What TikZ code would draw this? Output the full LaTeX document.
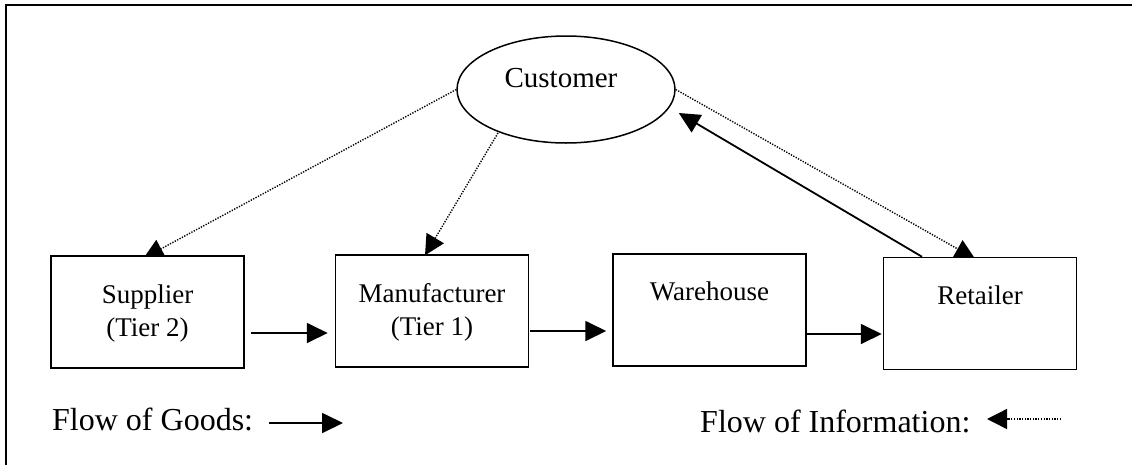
\documentclass[tikz,border=0pt]{standalone}
\usepackage{fontspec}
\setmainfont{Liberation Serif}
\usetikzlibrary{shapes.geometric,arrows.meta,calc}
\pgfdeclarelayer{bg}
\pgfdeclarelayer{conn}
\pgfsetlayers{bg,conn,main}
\begin{document}
\begin{tikzpicture}[x=1pt,y=-1pt,
  box/.style={draw, line width=1.5pt, fill=white, minimum width=193pt, minimum height=112pt, inner sep=0pt},
  btext/.style={font=\fontsize{27}{33}\selectfont, anchor=base, inner sep=0pt},
  ltext/.style={font=\fontsize{32}{38}\selectfont, anchor=base west, inner sep=0pt},
  goods/.style={line width=1.8pt, -{Triangle[length=21pt,width=20pt]}},
  info/.style={line width=1.4pt, dash pattern=on 1.3pt off 1.4pt, -{Triangle[length=20pt,width=20pt]}},
]
\useasboundingbox (0,0) rectangle (1132,464);
\begin{pgfonlayer}{bg}
\fill[white] (0,0) rectangle (1132,464);
\end{pgfonlayer}
\draw[line width=2pt] (6,466) -- (6,5) -- (1134,5);

\node[draw, ellipse, line width=1.5pt, minimum width=218pt, minimum height=107pt, inner sep=0pt] (cust) at (566,89.5) {};
\node[font=\fontsize{29}{35}\selectfont, anchor=base, inner sep=0pt] (custt) at (561,87) {Customer};

\node[box] (sup) at (147.5,312) {};
\node[btext] (supt1) at (147.5,303) {Supplier};
\node[btext] (supt2) at (147.5,336) {(Tier 2)};
\node[box] (man) at (432,311) {};
\node[btext] (mant1) at (432,302) {Manufacturer};
\node[btext] (mant2) at (432,335) {(Tier 1)};
\node[box] (war) at (709.5,310) {};
\node[btext] (wart) at (709.5,300) {Warehouse};
\node[box] (ret) at (980,313.5) {};
\node[btext] (rett) at (980,304) {Retailer};

\begin{pgfonlayer}{conn}
\draw[info] (cust.west) -- ($(sup.north)+(-4,3)$);
\draw[info] ($(cust.center)+(-68,43.5)$) -- ($(man.north)+(-7,1)$);
\draw[info] (cust.east) -- ($(ret.north)+(-5,2)$);
\draw[goods] ($(ret.north)+(-58,0)$) -- ($(cust.east)+(3,23.5)$);
\end{pgfonlayer}

\draw[goods] ($(sup.east)+(6,21)$) -- ($(man.west)+(-7,22)$);
\draw[goods] ($(man.east)+(1,20)$) -- ($(war.west)+(-6,21)$);
\draw[goods] ($(war.east)+(0,24)$) -- ($(ret.west)+(-1,20.5)$);

\node[ltext] (lg) at (52,430) {Flow of Goods:};
\coordinate (g1) at (269,423);
\coordinate (g2) at (343,423);
\draw[goods] (g1) -- (g2);
\node[ltext] (li) at (700,432) {Flow of Information:};
\coordinate (i1) at (1061,419);
\coordinate (i2) at (987,419);
\draw[info] (i1) -- (i2);
\end{tikzpicture}
\end{document}
